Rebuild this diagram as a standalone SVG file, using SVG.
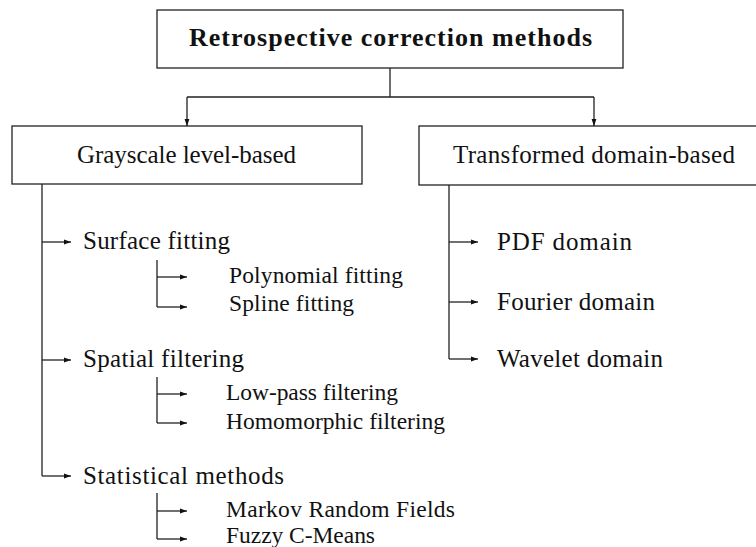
<svg xmlns="http://www.w3.org/2000/svg" width="756" height="547" viewBox="0 0 756 547">
<defs>
<marker id="ah" markerWidth="8" markerHeight="6" refX="7" refY="3" orient="auto" markerUnits="userSpaceOnUse">
<path d="M0,0.6 L7,3 L0,5.4 Z" fill="#111"/>
</marker>
<style>
.box{fill:#fff;stroke:#222;stroke-width:1.3}
.ln{fill:none;stroke:#222;stroke-width:1.3}
.ar{fill:none;stroke:#222;stroke-width:1.3;marker-end:url(#ah)}
.t{font-family:"Liberation Serif","Times New Roman",serif;fill:#111}
.m{font-size:25px}
.s{font-size:23.5px}
.b{font-size:26px;font-weight:bold}
</style>
</defs>
<rect width="756" height="547" fill="#fff"/>
<g id="connectors">
<path class="ln" d="M390,68 V97 M187,97 H594"/>
<path class="ar" d="M187,97 V126"/>
<path class="ar" d="M594,97 V126"/>
<path class="ln" d="M42,184 V476 M157,260 V307 M157,377 V423 M157,493 V539 M449,185 V359"/>
<path class="ar" d="M42,242 H71"/>
<path class="ar" d="M42,360 H71"/>
<path class="ar" d="M42,476 H71"/>
<path class="ar" d="M157,277 H187"/>
<path class="ar" d="M157,307 H187"/>
<path class="ar" d="M157,394 H187"/>
<path class="ar" d="M157,423 H187"/>
<path class="ar" d="M157,511 H187"/>
<path class="ar" d="M157,539 H187"/>
<path class="ar" d="M449,242 H478"/>
<path class="ar" d="M449,302 H478"/>
<path class="ar" d="M449,359 H478"/>
</g>
<g id="root">
<rect class="box" x="157" y="10" width="466" height="58"/>
<text class="t b" x="189" y="46" textLength="403">Retrospective correction methods</text>
</g>
<g id="grayscale">
<rect class="box" x="12" y="126" width="350" height="58"/>
<text class="t m" x="77" y="163" textLength="219">Grayscale level-based</text>
</g>
<g id="transformed">
<rect class="box" x="419" y="126" width="350" height="59"/>
<text class="t m" x="453" y="163" textLength="282">Transformed domain-based</text>
</g>
<g id="surface"><text class="t m" x="83" y="249" textLength="147">Surface fitting</text></g>
<g id="polynomial"><text class="t s" x="229" y="283" textLength="174">Polynomial fitting</text></g>
<g id="spline"><text class="t s" x="229" y="311" textLength="125">Spline fitting</text></g>
<g id="spatial"><text class="t m" x="83" y="367" textLength="161">Spatial filtering</text></g>
<g id="lowpass"><text class="t s" x="226" y="400" textLength="172">Low-pass filtering</text></g>
<g id="homomorphic"><text class="t s" x="226" y="429" textLength="219">Homomorphic filtering</text></g>
<g id="statistical"><text class="t m" x="83" y="484" textLength="201">Statistical methods</text></g>
<g id="markov"><text class="t s" x="226" y="517" textLength="229">Markov Random Fields</text></g>
<g id="fuzzy"><text class="t s" x="226" y="543" textLength="149">Fuzzy C-Means</text></g>
<g id="pdf"><text class="t m" x="497" y="250" textLength="135">PDF domain</text></g>
<g id="fourier"><text class="t m" x="497" y="310" textLength="158">Fourier domain</text></g>
<g id="wavelet"><text class="t m" x="497" y="367" textLength="166">Wavelet domain</text></g>
</svg>
